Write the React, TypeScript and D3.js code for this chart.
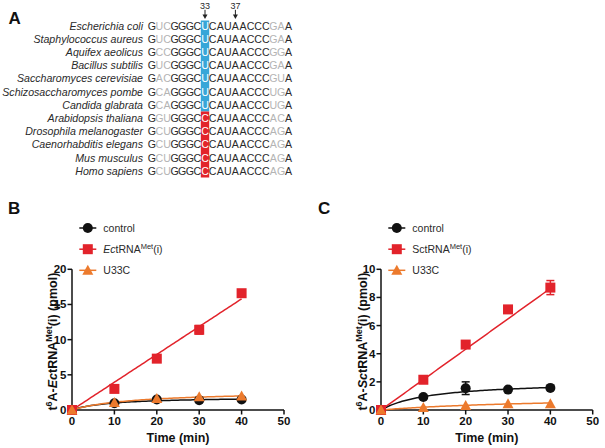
import React from 'react';
import * as d3 from 'd3';

// panel A: anticodon stem-loop alignment
const species = [
  'Escherichia coli', 'Staphylococcus aureus', 'Aquifex aeolicus', 'Bacillus subtilis',
  'Saccharomyces cerevisiae', 'Schizosaccharomyces pombe', 'Candida glabrata',
  'Arabidopsis thaliana', 'Drosophila melanogaster', 'Caenorhabditis elegans',
  'Mus musculus', 'Homo sapiens',
];
const sequences = [
  'GUCGGGCUCAUAACCCGAA', 'GUCGGGCUCAUAACCCGAA', 'GCCGGGCUCAUAACCCGGA', 'GUCGGGCUCAUAACCCGAA',
  'GACGGGCUCAUAACCCGUA', 'GCAGGGCUCAUAACCCUGA', 'GCAGGGCUCAUAACCCUGA',
  'GGUGGGCCCAUAACCCACA', 'GCUGGGCCCAUAACCCAGA', 'GCUGGGCCCAUAACCCAGA',
  'GCUGGGCCCAUAACCCAGA', 'GCUGGGCCCAUAACCCAGA',
];
const greyCols = [1, 2, 16, 17];
const pos33 = 7;
const pos37 = 11;

// panels B and C
const times = [0, 10, 20, 30, 40];
const xTicks = [0, 10, 20, 30, 40, 50];

const bControl = [0, 0.95, 1.5, 1.4, 1.5];
const bControlErr = [0, 0.1, 0.15, 0.1, 0.1];
const bEc = [0, 3.0, 7.3, 11.4, 16.6];
const bEcErr = [0, 0.2, 0.3, 0.6, 0.3];
const bU33C = [0, 1.05, 1.65, 1.9, 2.0];
const bYTicks = [0, 5, 10, 15, 20];

const cControl = [0, 0.92, 1.55, 1.45, 1.57];
const cControlErr = [0, 0.05, 0.45, 0.05, 0.05];
const cSc = [0, 2.15, 4.65, 7.15, 8.7];
const cScErr = [0, 0.1, 0.1, 0.2, 0.5];
const cU33C = [0, 0.18, 0.32, 0.45, 0.45];
const cYTicks = [0, 2, 4, 6, 8, 10];

// fitted curves: linear slope, hyperbola [Bmax, K]
const bEcSlope = 0.395;
const bControlFit = [1.9, 9];
const bU33CFit = [2.75, 15];
const cScSlope = 0.216;
const cControlFit = [2.07, 11.8];
const cU33CFit = [1.0, 40];

const RED = '#e2232b';
const ORANGE = '#ec7a2d';
const BLACK = '#111';
const BLUE = '#37a6d8';
const TXT = '#2a2a2a';
const FONT = '"Liberation Sans", Arial, sans-serif';

function Marker({ shape, x, y, color }) {
  if (shape === 'circle') return <circle cx={x} cy={y} r={5} fill={color} />;
  if (shape === 'square') return <rect x={x - 5} y={y - 5} width={10} height={10} fill={color} />;
  return <path d={`M${x},${y - 5.5}L${x + 5.5},${y + 4.5}L${x - 5.5},${y + 4.5}Z`} fill={color} />;
}

function Panel({ letter, letterX, left, right, yMax, yTicks, series, titleBaseX, species: sp, spItalic }) {
  const x = d3.scaleLinear().domain([0, 50]).range([left, right]);
  const y = d3.scaleLinear().domain([0, yMax]).range([410, 269.3]);
  const fx = d3.range(0, 40.01, 0.5);
  const line = d3.line().x((d) => x(d[0])).y((d) => y(d[1]));
  const yMid = (y(0) + y(yMax)) / 2;
  const legY = [228, 249.2, 270.3];
  const legX = left + 15.8;
  return (
    <g>
      <text x={letterX} y={214} fontSize={17} fontWeight="bold" fill="#111">{letter}</text>
      {/* legend */}
      {series.map((s, i) => (
        <g key={'l' + i}>
          <line x1={legX - 8.5} x2={legX + 8.5} y1={legY[i]} y2={legY[i]} stroke={s.color} strokeWidth={1.5} />
          <Marker shape={s.shape} x={legX} y={legY[i]} color={s.color} />
          <text x={legX + 15.5} y={legY[i] + 3.8} fontSize={10.5} fill={TXT}>
            {i === 1 ? (
              <>
                <tspan fontStyle={spItalic ? 'italic' : 'normal'}>{sp}</tspan>tRNA
                <tspan dy={-4} fontSize={7.5}>Met</tspan>
                <tspan dy={4}>(i)</tspan>
              </>
            ) : s.name}
          </text>
        </g>
      ))}
      {/* axes */}
      <line x1={left} x2={left} y1={y(yMax)} y2={y(0)} stroke={BLACK} strokeWidth={1.5} />
      <line x1={left} x2={x(50)} y1={y(0)} y2={y(0)} stroke={BLACK} strokeWidth={1.5} />
      {yTicks.map((t) => (
        <g key={'y' + t}>
          <line x1={left - 4.5} x2={left} y1={y(t)} y2={y(t)} stroke={BLACK} strokeWidth={1.5} />
          <text x={left - 5.5} y={y(t) + 4} fontSize={11.5} fontWeight="bold" textAnchor="end" fill={BLACK}>{t}</text>
        </g>
      ))}
      {xTicks.map((t) => (
        <g key={'x' + t}>
          <line x1={x(t)} x2={x(t)} y1={y(0)} y2={y(0) + 4.5} stroke={BLACK} strokeWidth={1.5} />
          <text x={x(t)} y={425} fontSize={11.5} fontWeight="bold" textAnchor="middle" fill={BLACK}>{t}</text>
        </g>
      ))}
      <text x={(left + x(50)) / 2} y={441.5} fontSize={12.5} fontWeight="bold" textAnchor="middle" fill={BLACK}>Time (min)</text>
      <text transform={`translate(${titleBaseX},${yMid + 2}) rotate(-90)`} fontSize={12.5} fontWeight="bold" textAnchor="middle" fill={BLACK}>
        t<tspan dy={-5} fontSize={9}>6</tspan>
        <tspan dy={5}>A-</tspan>
        <tspan fontStyle="italic">{sp}</tspan>tRNA
        <tspan dy={-5} fontSize={9}>Met</tspan>
        <tspan dy={5}>(i) (pmol)</tspan>
      </text>
      {/* fitted curves */}
      {series.map((s, i) => (
        <path key={'f' + i}
          d={line(fx.map((t) => [t, s.slope != null ? s.slope * t : (s.fit[0] * t) / (s.fit[1] + t)]))}
          fill="none" stroke={s.color} strokeWidth={1.5} />
      ))}
      {/* error bars + points */}
      {series.map((s, i) => (
        <g key={'p' + i}>
          {s.err && times.map((t, j) => s.err[j] > 0.15 ? (
            <g key={j} stroke={s.color} strokeWidth={1.5}>
              <line x1={x(t)} x2={x(t)} y1={y(s.values[j] - s.err[j])} y2={y(s.values[j] + s.err[j])} />
              <line x1={x(t) - 4} x2={x(t) + 4} y1={y(s.values[j] + s.err[j])} y2={y(s.values[j] + s.err[j])} />
              <line x1={x(t) - 4} x2={x(t) + 4} y1={y(s.values[j] - s.err[j])} y2={y(s.values[j] - s.err[j])} />
            </g>
          ) : null)}
          {times.map((t, j) => (
            <Marker key={j} shape={s.shape} x={x(t)} y={y(s.values[j])} color={s.color} />
          ))}
        </g>
      ))}
    </g>
  );
}

function Alignment() {
  const seqX = 148;
  const step = 7.6;
  const rowY = (i) => 25.7 + 13.2 * i;
  const colX = (j) => seqX + j * step + step / 2;
  return (
    <g>
      <text x={8.5} y={24} fontSize={17} fontWeight="bold" fill="#111">A</text>
      <rect x={colX(pos33) - 4.2} y={20.5} width={8.4} height={rowY(6) + 6.6 - 20.5} fill={BLUE} />
      <rect x={colX(pos33) - 4.2} y={rowY(7) - 6.6} width={8.4} height={rowY(11) + 6.6 - rowY(7) + 6.6} fill={RED} />
      {[[pos33, '33'], [pos37, '37']].map(([p, lab]) => (
        <g key={lab}>
          <text x={colX(p)} y={8.8} fontSize={9} textAnchor="middle" fill={TXT}>{lab}</text>
          <line x1={colX(p)} x2={colX(p)} y1={9.8} y2={17} stroke="#222" strokeWidth={1} />
          <path d={`M${colX(p) - 2.5},${14.5}L${colX(p) + 2.5},${14.5}L${colX(p)},${19}Z`} fill="#222" />
        </g>
      ))}
      {species.map((s, i) => (
        <g key={s}>
          <text x={143} y={rowY(i) + 3.8} fontSize={10.6} fontStyle="italic" textAnchor="end" fill={TXT}>{s}</text>
          {sequences[i].split('').map((c, j) => (
            <text key={j} x={colX(j)} y={rowY(i) + 3.8} fontSize={10.6} textAnchor="middle"
              fill={j === pos33 ? '#fff' : greyCols.includes(j) ? '#b4b4b4' : TXT}>{c}</text>
          ))}
        </g>
      ))}
    </g>
  );
}

export default function App() {
  const bSeries = [
    { name: 'control', shape: 'circle', color: BLACK, values: bControl, err: bControlErr, fit: bControlFit },
    { name: 'Ec', shape: 'square', color: RED, values: bEc, err: bEcErr, slope: bEcSlope },
    { name: 'U33C', shape: 'triangle', color: ORANGE, values: bU33C, fit: bU33CFit },
  ];
  const cSeries = [
    { name: 'control', shape: 'circle', color: BLACK, values: cControl, err: cControlErr, fit: cControlFit },
    { name: 'Sc', shape: 'square', color: RED, values: cSc, err: cScErr, slope: cScSlope },
    { name: 'U33C', shape: 'triangle', color: ORANGE, values: cU33C, fit: cU33CFit },
  ];
  return (
    <svg width={605} height={448} style={{ position: 'absolute', left: 0, top: 0, background: '#fff' }} fontFamily={FONT}>
      <rect width={605} height={448} fill="#fff" />
      <Alignment />
      <Panel letter="B" letterX={8} left={72} right={284} yMax={20} yTicks={bYTicks} series={bSeries}
        titleBaseX={56.5} species="Ec" spItalic />
      <Panel letter="C" letterX={318} left={381} right={592.7} yMax={10} yTicks={cYTicks} series={cSeries}
        titleBaseX={367} species="Sc" spItalic={false} />
    </svg>
  );
}
